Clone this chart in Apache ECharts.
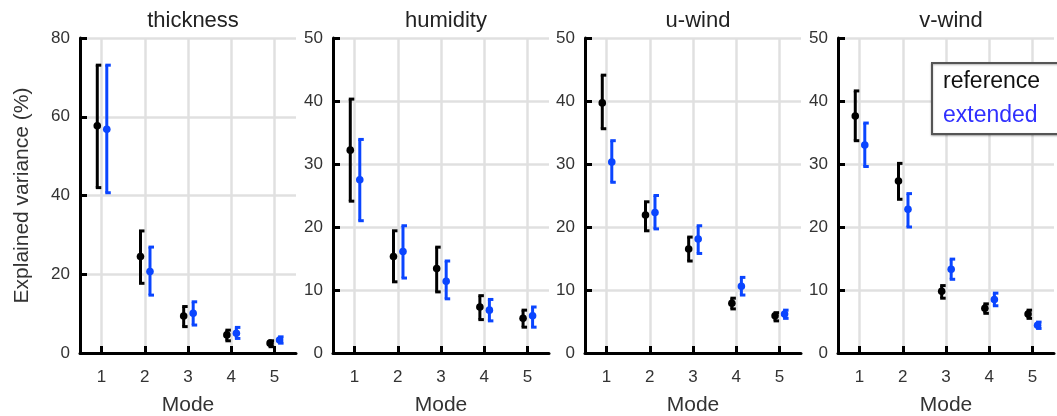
<!DOCTYPE html>
<html>
<head>
<meta charset="utf-8">
<script src="https://cdn.jsdelivr.net/npm/echarts@6/dist/echarts.min.js"></script>
<style>
  html, body { margin: 0; padding: 0; background: #fff; }
  #chart { width: 1057px; height: 416px; }
</style>
</head>
<body>
<div id="chart"></div>
<script>
// data, one row per panel
const modes = [1, 2, 3, 4, 5];
const panels = ['thickness', 'humidity', 'u-wind', 'v-wind'];
const yMax = [80, 50, 50, 50];
const yStep = [20, 10, 10, 10];

const refMean = [
  [57.7, 24.5, 9.4, 4.6, 2.5],
  [32.2, 15.3, 13.4, 7.3, 5.5],
  [39.7, 21.9, 16.5, 7.9, 5.9],
  [37.6, 27.3, 9.8, 7.1, 6.2]
];
const refLow = [
  [42.0, 17.7, 6.7, 3.1, 1.6],
  [24.1, 11.3, 9.7, 5.3, 4.1],
  [35.6, 19.4, 14.6, 7.0, 5.1],
  [33.7, 24.4, 8.7, 6.3, 5.5]
];
const refHigh = [
  [73.1, 31.0, 11.8, 5.8, 3.1],
  [40.3, 19.4, 16.8, 9.1, 6.8],
  [44.1, 24.0, 18.4, 8.7, 6.4],
  [41.6, 30.1, 10.7, 7.8, 6.8]
];
const extMean = [
  [56.8, 20.7, 10.1, 5.0, 3.3],
  [27.5, 16.1, 11.4, 6.8, 5.9],
  [30.3, 22.3, 18.1, 10.6, 6.2],
  [33.0, 22.8, 13.3, 8.5, 4.4]
];
const extLow = [
  [40.7, 14.7, 7.1, 3.7, 2.5],
  [21.0, 11.9, 8.6, 5.1, 4.1],
  [27.1, 19.7, 15.8, 9.2, 5.5],
  [29.6, 20.0, 11.7, 7.5, 3.9]
];
const extHigh = [
  [73.1, 26.9, 13.0, 6.5, 4.1],
  [33.9, 20.2, 14.6, 8.5, 7.3],
  [33.7, 25.0, 20.2, 12.0, 6.8],
  [36.5, 25.3, 14.9, 9.5, 4.9]
];

const font = 'Liberation Sans, Arial, Helvetica, sans-serif';
const gridLeft = [80, 333, 585, 838];
const gridW = 216, gridTop = 38, gridH = 315;
const refColor = '#000000';
const extColor = '#0a45ff';

// error bar: "[" shaped bar with a dot at the mean
function errBar(color, shift) {
  return function (params, api) {
    const x = api.value(0) + shift;
    const c = api.coord([x, api.value(1)]);
    const lo = api.coord([x, api.value(2)]);
    const hi = api.coord([x, api.value(3)]);
    const st = { stroke: color, lineWidth: 3, fill: null };
    return {
      type: 'group',
      children: [
        { type: 'line', shape: { x1: c[0], y1: lo[1], x2: c[0], y2: hi[1] }, style: st },
        { type: 'line', shape: { x1: c[0] - 1.5, y1: hi[1], x2: c[0] + 4, y2: hi[1] }, style: st },
        { type: 'line', shape: { x1: c[0] - 1.5, y1: lo[1], x2: c[0] + 4, y2: lo[1] }, style: st },
        { type: 'circle', shape: { cx: c[0], cy: c[1], r: 3.8 }, style: { fill: color } }
      ]
    };
  };
}

const grids = [], xAxes = [], yAxes = [], titles = [], series = [];
panels.forEach((name, i) => {
  grids.push({
    left: gridLeft[i], top: gridTop, width: gridW, height: gridH,
    outerBoundsMode: 'none', containLabel: false
  });
  titles.push({
    text: name, left: gridLeft[i] + gridW / 2, top: 5, textAlign: 'center',
    textStyle: { fontFamily: font, fontSize: 22, fontWeight: 'normal', color: '#222' }
  });
  xAxes.push({
    type: 'value', gridIndex: i, min: 0.5, max: 5.5,
    name: 'Mode', nameLocation: 'middle', nameGap: 42,
    nameTextStyle: { fontFamily: font, fontSize: 21, color: '#333' },
    axisLine: { show: true, onZero: false, lineStyle: { color: '#000', width: 3 } },
    axisTick: { show: true, inside: true, length: 7, customValues: modes, lineStyle: { color: '#000', width: 3 } },
    axisLabel: { customValues: modes, margin: 16, fontFamily: font, fontSize: 17, color: '#333' },
    splitLine: { show: true, lineStyle: { color: '#e0e0e0', width: 2.5 } }
  });
  yAxes.push({
    type: 'value', gridIndex: i, min: 0, max: yMax[i], interval: yStep[i],
    name: i === 0 ? 'Explained variance (%)' : '',
    nameLocation: 'middle', nameGap: 47,
    nameTextStyle: { fontFamily: font, fontSize: 21, color: '#333' },
    axisLine: { show: true, lineStyle: { color: '#000', width: 3 } },
    axisTick: { show: true, inside: true, length: 7, lineStyle: { color: '#000', width: 3 } },
    axisLabel: { margin: 10, fontFamily: font, fontSize: 17, color: '#333' },
    splitLine: { show: true, lineStyle: { color: '#e0e0e0', width: 2.5 } }
  });
  series.push({
    name: 'reference', type: 'custom', xAxisIndex: i, yAxisIndex: i,
    renderItem: errBar(refColor, -0.1), itemStyle: { color: refColor },
    data: modes.map((m, k) => [m, refMean[i][k], refLow[i][k], refHigh[i][k]])
  });
  series.push({
    name: 'extended', type: 'custom', xAxisIndex: i, yAxisIndex: i,
    renderItem: errBar(extColor, 0.12), itemStyle: { color: extColor },
    data: modes.map((m, k) => [m, extMean[i][k], extLow[i][k], extHigh[i][k]])
  });
});

const chart = echarts.init(document.getElementById('chart'));
chart.setOption({
  animation: false,
  backgroundColor: '#fff',
  title: titles,
  grid: grids,
  xAxis: xAxes,
  yAxis: yAxes,
  series: series,
  legend: {
    data: [
      { name: 'reference', textStyle: { color: '#111' } },
      { name: 'extended', textStyle: { color: '#3030ff' } }
    ],
    orient: 'vertical', left: 932, top: 63,
    icon: 'none', itemWidth: 0, itemGap: 11,
    padding: [7, 40, 7, 6],
    backgroundColor: '#fff', borderColor: '#555', borderWidth: 2,
    shadowColor: 'rgba(0,0,0,0.3)', shadowBlur: 2, shadowOffsetY: 1,
    textStyle: { fontFamily: font, fontSize: 23 }
  }
});
</script>
</body>
</html>
